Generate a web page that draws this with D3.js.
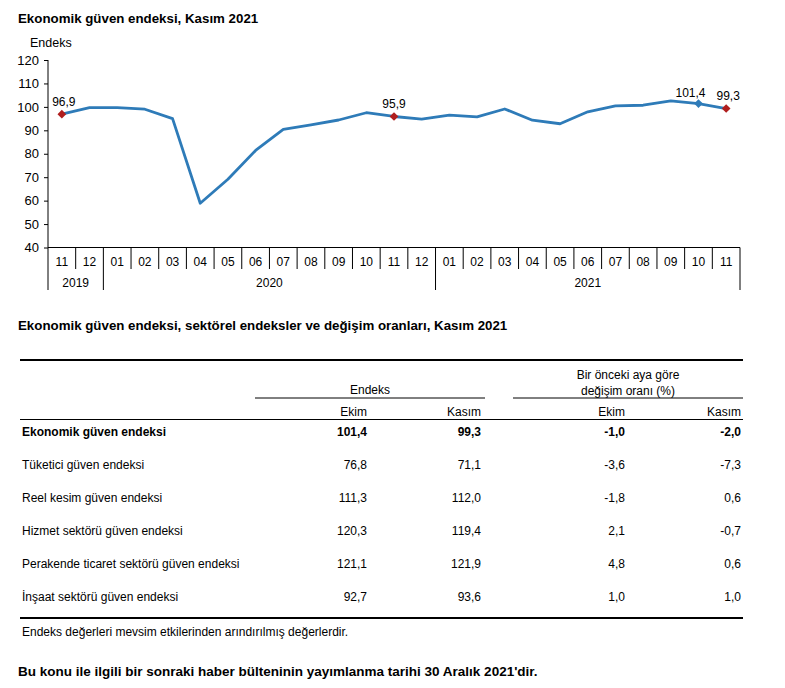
<!DOCTYPE html>
<html><head><meta charset="utf-8">
<script src="https://cdn.jsdelivr.net/npm/d3@7"></script>
<style>
body{margin:0;background:#fff;}
text{font-family:"Liberation Sans",Arial,sans-serif;fill:#000;}
</style></head>
<body><svg id="c" width="785" height="688"></svg>
<script>
// ---- data ----
const months = ["11","12","01","02","03","04","05","06","07","08","09","10","11","12","01","02","03","04","05","06","07","08","09","10","11"];
const years = [{label:"2019",start:0,end:2},{label:"2020",start:2,end:14},{label:"2021",start:14,end:25}];
const values = [96.9,99.7,99.7,99.0,95.0,58.9,69.1,81.4,90.4,92.3,94.4,97.5,95.9,94.8,96.5,95.7,99.1,94.3,92.8,97.9,100.4,100.7,102.6,101.4,99.3];
const labelled = [{i:0,text:"96,9",color:"#B01E1E",dx:2,dy:-8},{i:12,text:"95,9",color:"#B01E1E",dx:0,dy:-8},{i:23,text:"101,4",color:"#2E7BB8",dx:-8,dy:-7},{i:24,text:"99,3",color:"#B01E1E",dx:2,dy:-9}];
const yTicks = [40,50,60,70,80,90,100,110,120];

const rowNames = ["Ekonomik güven endeksi","Tüketici güven endeksi","Reel kesim güven endeksi","Hizmet sektörü güven endeksi","Perakende ticaret sektörü güven endeksi","İnşaat sektörü güven endeksi"];
const endeksEkim = ["101,4","76,8","111,3","120,3","121,1","92,7"];
const endeksKasim = ["99,3","71,1","112,0","119,4","121,9","93,6"];
const degisimEkim = ["-1,0","-3,6","-1,8","2,1","4,8","1,0"];
const degisimKasim = ["-2,0","-7,3","0,6","-0,7","0,6","1,0"];

const svg = d3.select("#c");
const lineColor = "#2E7BB8";

// ---- chart ----
svg.append("text").attr("x",18).attr("y",23).attr("font-size",13.3).attr("font-weight","bold").text("Ekonomik güven endeksi, Kasım 2021");
svg.append("text").attr("x",30).attr("y",47).attr("font-size",12.5).text("Endeks");

const x = d3.scaleBand().domain(d3.range(months.length)).range([48,740]).paddingInner(0).paddingOuter(0);
const y = d3.scaleLinear().domain([40,120]).range([247.5,60]);

const yAxis = svg.append("g").attr("transform","translate(48,0)")
  .call(d3.axisLeft(y).tickValues(yTicks).tickSize(4).tickPadding(5));
yAxis.select(".domain").attr("stroke","#000").attr("d","M0,60V247.5");
yAxis.selectAll(".tick line").attr("stroke","#000");
yAxis.selectAll("text").attr("font-size",13).attr("font-family","Liberation Sans, Arial, sans-serif").attr("fill","#000");

// x axis baseline
svg.append("line").attr("x1",48).attr("x2",740).attr("y1",y(40)).attr("y2",y(40)).attr("stroke","#000");
// month dividers
const bounds = d3.range(months.length+1);
const yearBounds = new Set([0,2,14,25]);
svg.append("g").selectAll("line").data(bounds).join("line")
  .attr("x1",d=>d<months.length?x(d):x.range()[1]).attr("x2",d=>d<months.length?x(d):x.range()[1])
  .attr("y1",y(40)).attr("y2",d=>yearBounds.has(d)?290:269)
  .attr("stroke","#000").attr("stroke-width",1);
svg.append("g").selectAll("text").data(months).join("text")
  .attr("x",(d,i)=>x(i)+x.bandwidth()/2).attr("y",266).attr("text-anchor","middle").attr("font-size",12).text(d=>d);
svg.append("g").selectAll("text").data(years).join("text")
  .attr("x",d=>(x(d.start)+(d.end<months.length?x(d.end):740))/2).attr("y",287).attr("text-anchor","middle").attr("font-size",12).text(d=>d.label);

const line = d3.line().x((d,i)=>x(i)+x.bandwidth()/2).y(d=>y(d));
svg.append("path").datum(values).attr("d",line).attr("fill","none").attr("stroke",lineColor).attr("stroke-width",2.8).attr("stroke-linejoin","round");

const diamond = d3.symbol().type(d3.symbolSquare).size(38);
svg.append("g").selectAll("path").data(labelled).join("path")
  .attr("d",diamond).attr("transform",d=>`translate(${x(d.i)+x.bandwidth()/2},${y(values[d.i])}) rotate(45)`).attr("fill",d=>d.color);
svg.append("g").selectAll("text").data(labelled).join("text")
  .attr("x",d=>x(d.i)+x.bandwidth()/2 + d.dx).attr("y",d=>y(values[d.i])+d.dy).attr("text-anchor","middle").attr("font-size",12).text(d=>d.text);

// ---- table ----
svg.append("text").attr("x",18).attr("y",330).attr("font-size",13.3).attr("font-weight","bold").text("Ekonomik güven endeksi, sektörel endeksler ve değişim oranları, Kasım 2021");
const L=20, R=743;
svg.append("line").attr("x1",L).attr("x2",R).attr("y1",360).attr("y2",360).attr("stroke","#000").attr("stroke-width",2);
svg.append("text").attr("x",370).attr("y",394).attr("text-anchor","middle").attr("font-size",12).text("Endeks");
svg.append("line").attr("x1",255).attr("x2",485).attr("y1",398).attr("y2",398).attr("stroke","#000");
svg.append("text").attr("x",628).attr("y",379).attr("text-anchor","middle").attr("font-size",12).text("Bir önceki aya göre");
svg.append("text").attr("x",628).attr("y",395).attr("text-anchor","middle").attr("font-size",12).text("değişim oranı (%)");
svg.append("line").attr("x1",513).attr("x2",R).attr("y1",398).attr("y2",398).attr("stroke","#000");
const colX = [367,481,625,741];
const heads = ["Ekim","Kasım","Ekim","Kasım"];
svg.append("g").selectAll("text").data(heads).join("text").attr("x",(d,i)=>colX[i]).attr("y",416).attr("text-anchor","end").attr("font-size",12).text(d=>d);
svg.append("line").attr("x1",L).attr("x2",R).attr("y1",419.5).attr("y2",419.5).attr("stroke","#000");

const rowY = d3.scaleLinear().domain([0,5]).range([436,601]);
const cols = [endeksEkim,endeksKasim,degisimEkim,degisimKasim];
const rows = svg.append("g").selectAll("g").data(rowNames).join("g").attr("transform",(d,i)=>`translate(0,${rowY(i)})`);
rows.append("text").attr("x",22).attr("font-size",12).attr("font-weight",(d,i)=>i===0?"bold":"normal").text(d=>d);
cols.forEach((c,ci)=>{
  rows.append("text").attr("x",colX[ci]).attr("text-anchor","end").attr("font-size",12).attr("font-weight",(d,i)=>i===0?"bold":"normal").text((d,i)=>c[i]);
});
svg.append("line").attr("x1",L).attr("x2",R).attr("y1",618).attr("y2",618).attr("stroke","#000").attr("stroke-width",2);
svg.append("text").attr("x",22).attr("y",636).attr("font-size",12).text("Endeks değerleri mevsim etkilerinden arındırılmış değerlerdir.");
svg.append("text").attr("x",18).attr("y",676).attr("font-size",13.5).attr("font-weight","bold").text("Bu konu ile ilgili bir sonraki haber bülteninin yayımlanma tarihi 30 Aralık 2021'dir.");
</script></body></html>
